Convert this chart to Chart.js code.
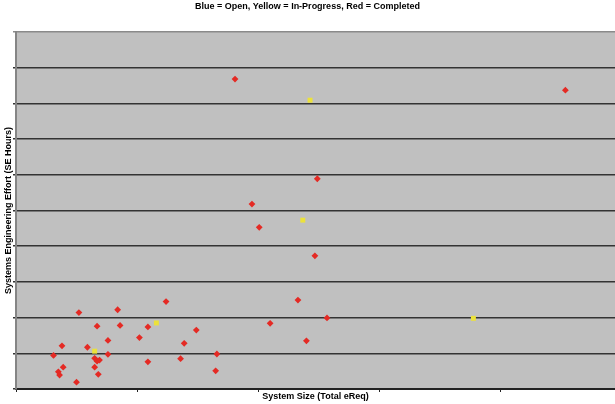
<!DOCTYPE html>
<html lang="en">
  <head>
    <meta charset="UTF-8" />
    <title>SE Effort vs System Size</title>
    <script src="https://cdn.jsdelivr.net/npm/chart.js"></script>
    <style>
      html, body { margin: 0; padding: 0; background: #fff; }
      #wrap { width: 615px; height: 404px; }
    </style>
  </head>
  <body>
    <div id="wrap"><canvas id="effortChart"></canvas></div>

    <script>
      // Values (axis units: one gridline / one tick = 1)
      const openX = [];
      const openY = [];

      const progressX = [0.65, 1.16, 2.37, 2.43, 3.78];
      const progressY = [1.06, 1.85, 4.73, 8.09, 1.98];

      const doneX = [
        0.52, 0.84, 0.67, 0.86, 0.76, 0.38, 0.59, 0.31, 0.76, 0.65,
        0.67, 0.69, 0.39, 0.65, 0.35, 0.36, 0.68, 0.50, 1.24, 1.09,
        1.02, 1.49, 1.39, 1.66, 1.09, 1.36, 1.65, 2.49, 1.95, 2.01,
        2.47, 2.33, 2.57, 2.10, 2.40, 1.81, 4.54,
      ];
      const doneY = [
        2.14, 2.22, 1.76, 1.78, 1.36, 1.21, 1.17, 0.94, 0.97, 0.86,
        0.78, 0.81, 0.61, 0.61, 0.48, 0.39, 0.41, 0.19, 2.45, 1.74,
        1.44, 1.65, 1.28, 0.98, 0.76, 0.85, 0.51, 5.89, 5.18, 4.53,
        3.73, 2.49, 1.99, 1.84, 1.35, 8.68, 8.37,
      ];

      const xTicks = [0, 1, 2, 3, 4];
      const yTicks = [0, 1, 2, 3, 4, 5, 6, 7, 8, 9, 10];

      const pairUp = (xs, ys) => xs.map((x, i) => ({ x: x, y: ys[i] }));

      // grey plot area
      const plotBackground = {
        id: "plotBackground",
        beforeDraw(chart) {
          const { ctx, chartArea } = chart;
          ctx.save();
          ctx.fillStyle = "#c0c0c0";
          ctx.fillRect(
            chartArea.left,
            chartArea.top,
            chartArea.right - chartArea.left,
            chartArea.bottom - chartArea.top
          );
          ctx.restore();
        },
      };

      const labelFont = { family: "Liberation Sans", size: 9, weight: "bold" };

      const ctx = document.getElementById("effortChart").getContext("2d");
      new Chart(ctx, {
        type: "scatter",
        data: {
          datasets: [
            {
              label: "Open",
              data: pairUp(openX, openY),
              backgroundColor: "#2030d0",
              borderWidth: 0,
              pointStyle: "rectRot",
              pointRadius: 3.4,
            },
            {
              label: "In-Progress",
              data: pairUp(progressX, progressY),
              backgroundColor: "#ece23a",
              borderWidth: 0,
              pointStyle: "rect",
              pointRadius: 3.5,
            },
            {
              label: "Completed",
              data: pairUp(doneX, doneY),
              backgroundColor: "#e42a24",
              borderWidth: 0,
              pointStyle: "rectRot",
              pointRadius: 3.4,
            },
          ],
        },
        options: {
          responsive: true,
          maintainAspectRatio: false,
          animation: false,
          layout: { padding: 0, autoPadding: false },
          plugins: {
            legend: { display: false },
            tooltip: { enabled: false },
            title: {
              display: true,
              text: "Blue = Open, Yellow = In-Progress, Red = Completed",
              color: "#000",
              font: labelFont,
              padding: { top: 1.6, bottom: 19.6 },
            },
          },
          scales: {
            x: {
              type: "linear",
              min: 0,
              max: 4.95,
              afterBuildTicks: (scale) => {
                scale.ticks = xTicks.map((v) => ({ value: v }));
              },
              afterFit: (scale) => {
                scale.height = 15;
              },
              ticks: { display: false },
              grid: {
                drawOnChartArea: false,
                drawTicks: true,
                tickLength: 3,
                color: "#222",
                lineWidth: 1,
              },
              border: { display: true, color: "#222", width: 2 },
              title: {
                display: true,
                text: "System Size (Total eReq)",
                color: "#000",
                font: labelFont,
                padding: { top: 0, bottom: 1.6 },
              },
            },
            y: {
              type: "linear",
              min: 0,
              max: 10,
              afterBuildTicks: (scale) => {
                scale.ticks = yTicks.map((v) => ({ value: v }));
              },
              afterFit: (scale) => {
                scale.width = 16;
              },
              ticks: { display: false },
              grid: {
                drawTicks: true,
                tickLength: 3,
                color: (c) => (c.tick && c.tick.value === 10 ? "#8a8a8a" : "#333"),
                lineWidth: 1.5,
              },
              border: { display: true, color: "#858585", width: 2 },
              title: {
                display: true,
                text: "Systems Engineering Effort (SE Hours)",
                color: "#000",
                font: labelFont,
                padding: { top: 3, bottom: 0 },
              },
            },
          },
        },
        plugins: [plotBackground],
      });
    </script>
  </body>
</html>
